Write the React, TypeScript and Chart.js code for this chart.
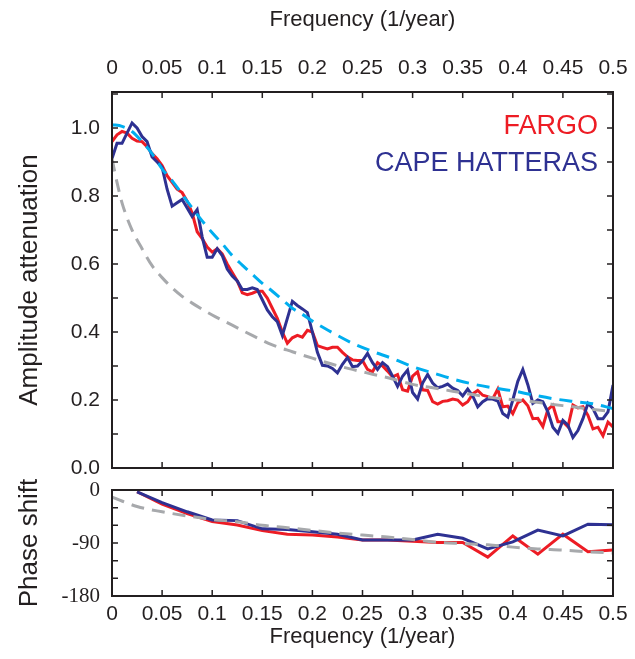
import React, { useEffect, useRef } from 'react';
import { Chart, registerables } from 'chart.js';

Chart.register(...registerables);

// ---------- data ----------
const freqAmp = [
  0, 0.005, 0.01, 0.015, 0.02, 0.025, 0.03, 0.035, 0.04, 0.045,
  0.05, 0.055, 0.06, 0.065, 0.07, 0.075, 0.08, 0.085, 0.09, 0.095,
  0.1, 0.105, 0.11, 0.115, 0.12, 0.125, 0.13, 0.135, 0.14, 0.145,
  0.15, 0.155, 0.16, 0.165, 0.17, 0.175, 0.18, 0.185, 0.19, 0.195,
  0.2, 0.205, 0.21, 0.215, 0.22, 0.225, 0.23, 0.235, 0.24, 0.245,
  0.25, 0.255, 0.26, 0.265, 0.27, 0.275, 0.28, 0.285, 0.29, 0.295,
  0.3, 0.305, 0.31, 0.315, 0.32, 0.325, 0.33, 0.335, 0.34, 0.345,
  0.35, 0.355, 0.36, 0.365, 0.37, 0.375, 0.38, 0.385, 0.39, 0.395,
  0.4, 0.405, 0.41, 0.415, 0.42, 0.425, 0.43, 0.435, 0.44, 0.445,
  0.45, 0.455, 0.46, 0.465, 0.47, 0.475, 0.48, 0.485, 0.49, 0.495,
  0.5,
];

const fargoAmp = [
  0.96, 0.98, 0.99, 0.985, 0.97, 0.962, 0.96, 0.945, 0.925, 0.91,
  0.89, 0.86, 0.84, 0.82, 0.81, 0.785, 0.75, 0.695, 0.675, 0.65,
  0.635, 0.645, 0.63, 0.6, 0.575, 0.55, 0.515, 0.51, 0.514, 0.52,
  0.52, 0.5, 0.47, 0.44, 0.4, 0.367, 0.383, 0.39, 0.385, 0.405,
  0.4, 0.36, 0.355, 0.35, 0.355, 0.355, 0.34, 0.327, 0.318, 0.316,
  0.316, 0.29, 0.283, 0.31, 0.3, 0.285, 0.268, 0.275, 0.23, 0.226,
  0.27, 0.283, 0.23, 0.228, 0.195, 0.188, 0.196, 0.198, 0.203, 0.2,
  0.185, 0.195, 0.218, 0.228, 0.214, 0.21, 0.204, 0.232, 0.18, 0.182,
  0.16, 0.192, 0.2, 0.183, 0.145, 0.146, 0.122, 0.172, 0.185, 0.136,
  0.136, 0.121, 0.185, 0.177, 0.18, 0.155, 0.115, 0.12, 0.095, 0.135,
  0.121,
];

const hatterasAmp = [
  0.91, 0.955, 0.955, 0.985, 1.015, 1.0, 0.975, 0.96, 0.915, 0.9,
  0.885, 0.82, 0.77, 0.78, 0.79, 0.765, 0.74, 0.76, 0.68, 0.62,
  0.62, 0.645, 0.625, 0.585, 0.565, 0.55, 0.525, 0.525, 0.53, 0.525,
  0.495, 0.465, 0.445, 0.43, 0.39, 0.44, 0.49, 0.478, 0.468, 0.457,
  0.4, 0.34, 0.302, 0.3, 0.293, 0.28, 0.305, 0.325, 0.298, 0.3,
  0.315, 0.337, 0.31, 0.29, 0.31, 0.298, 0.27, 0.24, 0.27, 0.288,
  0.222, 0.203, 0.25, 0.275, 0.25, 0.236, 0.24, 0.247, 0.235, 0.228,
  0.212, 0.232, 0.212, 0.18, 0.195, 0.204, 0.203, 0.197, 0.16, 0.15,
  0.2, 0.255, 0.29, 0.245, 0.19, 0.2, 0.195, 0.165, 0.12, 0.102,
  0.14, 0.126, 0.09, 0.11, 0.145, 0.19, 0.175, 0.145, 0.145, 0.165,
  0.244,
];

const freqCyan = [
  0, 0.01, 0.02, 0.03, 0.04, 0.05, 0.06, 0.07, 0.08, 0.09,
  0.1, 0.11, 0.12, 0.13, 0.14, 0.15, 0.16, 0.17, 0.18, 0.19,
  0.2, 0.22, 0.24, 0.26, 0.28, 0.3, 0.32, 0.34, 0.36, 0.38,
  0.4, 0.42, 0.44, 0.46, 0.48, 0.5,
];
const cyanAmp = [
  1.01, 1.005, 0.99, 0.96, 0.925, 0.88, 0.845, 0.805, 0.765, 0.727,
  0.692, 0.66, 0.625, 0.597, 0.57, 0.543, 0.52, 0.495, 0.47, 0.452,
  0.432, 0.398, 0.367, 0.343, 0.322, 0.298, 0.28, 0.262, 0.247, 0.236,
  0.227, 0.215, 0.204, 0.196, 0.189, 0.175,
];

const freqGray = [
  0, 0.005, 0.01, 0.02, 0.03, 0.04, 0.05, 0.06, 0.07, 0.08,
  0.1, 0.12, 0.14, 0.16, 0.18, 0.2, 0.22, 0.24, 0.26, 0.28,
  0.3, 0.32, 0.34, 0.36, 0.38, 0.4, 0.42, 0.44, 0.46, 0.48, 0.5,
];
const grayAmp = [
  0.91, 0.84, 0.78, 0.7, 0.645, 0.595, 0.56, 0.53, 0.505, 0.485,
  0.45, 0.42, 0.39, 0.362, 0.342, 0.323, 0.305, 0.29, 0.276, 0.262,
  0.246, 0.236, 0.226, 0.216, 0.207, 0.201, 0.195, 0.187, 0.18, 0.172, 0.166,
];

const freqPhase = [
  0.025, 0.05, 0.075, 0.1, 0.125, 0.15, 0.175, 0.2, 0.225, 0.25,
  0.275, 0.3, 0.325, 0.35, 0.375, 0.4, 0.425, 0.45, 0.475, 0.5,
];
const hatterasPhase = [
  -3, -21.5, -37, -51, -52, -66, -67, -71, -75, -85,
  -85, -85, -75, -82, -100, -88, -68, -78, -58, -59,
];
const fargoPhase = [
  -3, -24, -40, -53.5, -59.5, -69, -75, -76.5, -80, -85,
  -85, -87, -89, -89, -114, -78, -109, -75, -105, -102,
];
const freqGrayPhase = [
  0, 0.025, 0.05, 0.075, 0.1, 0.125, 0.15, 0.175, 0.2, 0.225,
  0.25, 0.275, 0.3, 0.325, 0.35, 0.375, 0.4, 0.425, 0.45, 0.475, 0.5,
];
const grayPhase = [
  -12, -28, -37, -44, -50, -54, -60, -64, -68.5, -73,
  -76.5, -80, -84, -89, -91, -93, -97, -100, -102, -105, -107,
];

const xTicks = [0, 0.05, 0.1, 0.15, 0.2, 0.25, 0.3, 0.35, 0.4, 0.45, 0.5];
const ampTicks = [0, 0.2, 0.4, 0.6, 0.8, 1.0];
const ampMinorTicks = [0, 0.1, 0.2, 0.3, 0.4, 0.5, 0.6, 0.7, 0.8, 0.9, 1.0, 1.1];
const phaseTicks = [-180, -90, 0];
const phaseMinorTicks = [-180, -150, -120, -90, -60, -30, 0];

// ---------- styles ----------
const SANS = "'Liberation Sans', Arial, Helvetica, sans-serif";
const SERIF = "'Liberation Serif', 'Times New Roman', serif";
const RED = '#ED1C24';
const BLUE = '#2E3192';
const CYAN = '#00AEEF';
const GRAY = '#A7A9AC';
const INK = '#231F20';

const CANVAS_W = 650;
const TOP_H = 497;
const BOT_TOP = 462;
const BOT_H = 659 - BOT_TOP;

const toXY = (xs: number[], ys: number[]) => xs.map((x, i) => ({ x, y: ys[i] }));
const fmtX = (v: number) => String(Math.round(v * 100) / 100);

function framePlugin(yMinor: number[], tickLen: number) {
  return {
    id: 'frameTicks',
    afterDraw(chart: any) {
      const { ctx, chartArea: a, scales } = chart;
      const sx = scales.x;
      const sy = scales.y;
      ctx.save();
      ctx.strokeStyle = INK;
      ctx.lineWidth = 1.5;
      ctx.beginPath();
      xTicks.forEach((v) => {
        const px = sx.getPixelForValue(v);
        ctx.moveTo(px, a.top);
        ctx.lineTo(px, a.top + tickLen);
        ctx.moveTo(px, a.bottom);
        ctx.lineTo(px, a.bottom - tickLen);
      });
      yMinor.forEach((v) => {
        const py = sy.getPixelForValue(v);
        ctx.moveTo(a.left, py);
        ctx.lineTo(a.left + tickLen, py);
        ctx.moveTo(a.right, py);
        ctx.lineTo(a.right - tickLen, py);
      });
      ctx.stroke();
      ctx.lineWidth = 2;
      ctx.strokeRect(a.left, a.top, a.right - a.left, a.bottom - a.top);
      ctx.restore();
    },
  };
}

const legendPlugin = {
  id: 'textLegend',
  afterDraw(chart: any) {
    const { ctx, chartArea: a } = chart;
    ctx.save();
    ctx.font = `27px ${SANS}`;
    ctx.textAlign = 'right';
    ctx.textBaseline = 'middle';
    ctx.fillStyle = RED;
    ctx.fillText('FARGO', a.right - 15, 127);
    ctx.fillStyle = BLUE;
    ctx.fillText('CAPE HATTERAS', a.right - 15, 164);
    ctx.restore();
  },
};

export default function App() {
  const topRef = useRef<HTMLCanvasElement>(null);
  const botRef = useRef<HTMLCanvasElement>(null);

  useEffect(() => {
    const xTickOpts = {
      font: { family: SANS, size: 21 },
      color: INK,
      maxRotation: 0,
      autoSkip: false,
      callback: (v: any) => fmtX(Number(v)),
    };

    const top = new Chart(topRef.current as HTMLCanvasElement, {
      type: 'line',
      data: {
        datasets: [
          {
            label: 'model 1',
            data: toXY(freqCyan, cyanAmp),
            borderColor: CYAN,
            borderWidth: 3,
            borderDash: [13, 8],
            pointRadius: 0,
            cubicInterpolationMode: 'monotone',
          },
          {
            label: 'model 2',
            data: toXY(freqGray, grayAmp),
            borderColor: GRAY,
            borderWidth: 3,
            borderDash: [13, 8],
            pointRadius: 0,
            cubicInterpolationMode: 'monotone',
          },
          {
            label: 'CAPE HATTERAS',
            data: toXY(freqAmp, hatterasAmp),
            borderColor: BLUE,
            borderWidth: 3,
            pointRadius: 0,
            tension: 0,
          },
          {
            label: 'FARGO',
            data: toXY(freqAmp, fargoAmp),
            borderColor: RED,
            borderWidth: 3,
            pointRadius: 0,
            tension: 0,
          },
        ],
      } as any,
      options: {
        responsive: false,
        animation: false,
        layout: { padding: { top: 0, left: 0, right: CANVAS_W - 613, bottom: TOP_H - 468 } },
        plugins: { legend: { display: false }, tooltip: { enabled: false } },
        scales: {
          x: {
            type: 'linear',
            position: 'top',
            min: 0,
            max: 0.5,
            afterBuildTicks: (s: any) => {
              s.ticks = xTicks.map((value) => ({ value }));
            },
            afterFit: (s: any) => {
              s.height = 92;
            },
            ticks: { ...xTickOpts, padding: 11 },
            grid: { display: false, drawTicks: false },
            border: { display: false },
            title: {
              display: true,
              text: 'Frequency (1/year)',
              font: { family: SANS, size: 22 },
              color: INK,
              padding: { top: 7, bottom: 0 },
            },
          },
          y: {
            type: 'linear',
            min: 0,
            max: 1.106,
            afterBuildTicks: (s: any) => {
              s.ticks = ampTicks.map((value) => ({ value }));
            },
            afterFit: (s: any) => {
              s.width = 112;
            },
            ticks: {
              font: { family: SANS, size: 21 },
              color: INK,
              padding: 12,
              callback: (v: any) => Number(v).toFixed(1),
            },
            grid: { display: false, drawTicks: false },
            border: { display: false },
            title: {
              display: true,
              text: 'Amplitude attenuation',
              font: { family: SANS, size: 26 },
              color: INK,
              padding: { top: 14, bottom: 0 },
            },
          },
        },
      } as any,
      plugins: [framePlugin(ampMinorTicks, 6), legendPlugin],
    });

    const bot = new Chart(botRef.current as HTMLCanvasElement, {
      type: 'line',
      data: {
        datasets: [
          {
            label: 'model',
            data: toXY(freqGrayPhase, grayPhase),
            borderColor: GRAY,
            borderWidth: 3,
            borderDash: [13, 8],
            pointRadius: 0,
            cubicInterpolationMode: 'monotone',
          },
          {
            label: 'CAPE HATTERAS',
            data: toXY(freqPhase, hatterasPhase),
            borderColor: BLUE,
            borderWidth: 3,
            pointRadius: 0,
            tension: 0,
          },
          {
            label: 'FARGO',
            data: toXY(freqPhase, fargoPhase),
            borderColor: RED,
            borderWidth: 3,
            pointRadius: 0,
            tension: 0,
          },
        ],
      } as any,
      options: {
        responsive: false,
        animation: false,
        layout: { padding: { top: 490 - BOT_TOP, left: 0, right: CANVAS_W - 613, bottom: 0 } },
        plugins: { legend: { display: false }, tooltip: { enabled: false } },
        scales: {
          x: {
            type: 'linear',
            position: 'bottom',
            min: 0,
            max: 0.5,
            afterBuildTicks: (s: any) => {
              s.ticks = xTicks.map((value) => ({ value }));
            },
            afterFit: (s: any) => {
              s.height = 659 - 596;
            },
            ticks: { ...xTickOpts, padding: 6 },
            grid: { display: false, drawTicks: false },
            border: { display: false },
            title: {
              display: true,
              text: 'Frequency (1/year)',
              font: { family: SANS, size: 22 },
              color: INK,
              padding: { top: 0, bottom: 9 },
            },
          },
          y: {
            type: 'linear',
            min: -180,
            max: 0,
            afterBuildTicks: (s: any) => {
              s.ticks = phaseTicks.map((value) => ({ value }));
            },
            afterFit: (s: any) => {
              s.width = 112;
            },
            ticks: {
              font: { family: SERIF, size: 21 },
              color: INK,
              padding: 12,
              callback: (v: any) => String(v),
            },
            grid: { display: false, drawTicks: false },
            border: { display: false },
            title: {
              display: true,
              text: 'Phase shift',
              font: { family: SANS, size: 26 },
              color: INK,
              padding: { top: 14, bottom: 0 },
            },
          },
        },
      } as any,
      plugins: [framePlugin(phaseMinorTicks, 6)],
    });

    return () => {
      top.destroy();
      bot.destroy();
    };
  }, []);

  return (
    <div
      style={{
        position: 'fixed',
        left: 0,
        top: 0,
        width: 635,
        height: 659,
        overflow: 'hidden',
        background: '#fff',
      }}
    >
      <canvas
        ref={topRef}
        width={CANVAS_W}
        height={TOP_H}
        style={{ position: 'absolute', left: 0, top: 0, width: CANVAS_W, height: TOP_H }}
      />
      <canvas
        ref={botRef}
        width={CANVAS_W}
        height={BOT_H}
        style={{ position: 'absolute', left: 0, top: BOT_TOP, width: CANVAS_W, height: BOT_H }}
      />
    </div>
  );
}
